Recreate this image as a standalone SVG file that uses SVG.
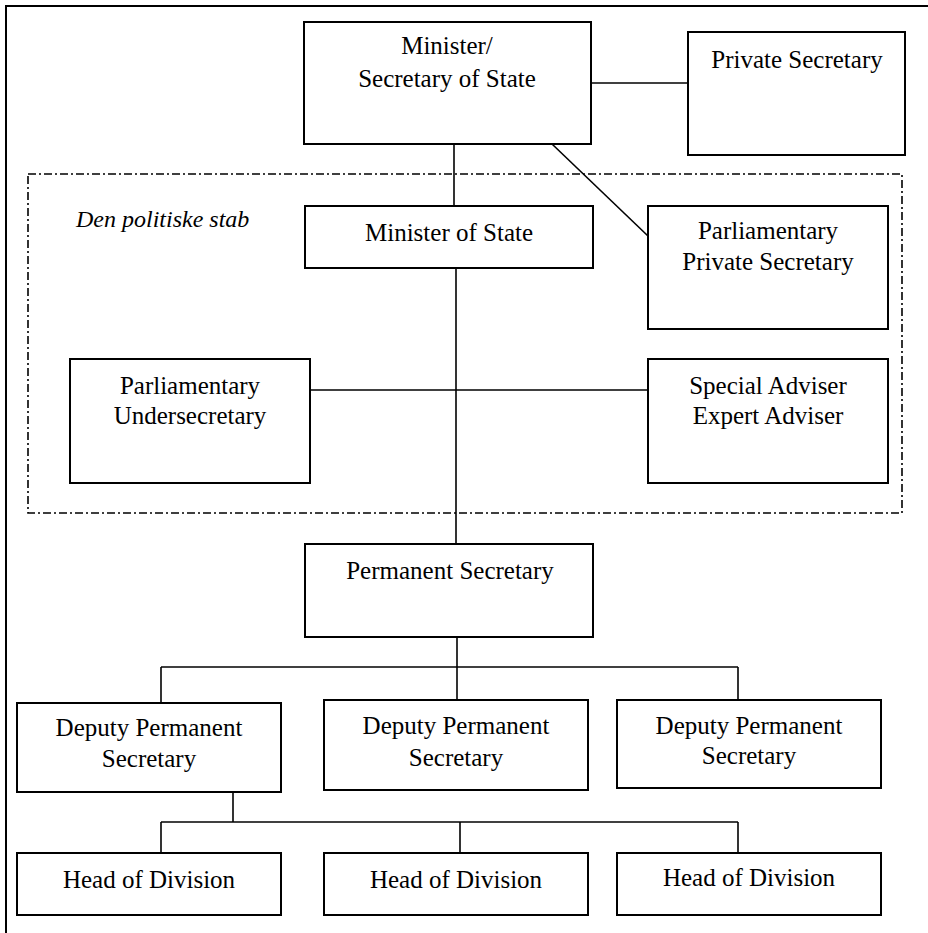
<svg xmlns="http://www.w3.org/2000/svg" width="928" height="933" viewBox="0 0 928 933">
<style>
.box{fill:#fff;stroke:#000;stroke-width:2}
.ln{fill:none;stroke:#000;stroke-width:1.6}
.t{font-family:"Liberation Serif","Times New Roman",serif;font-size:25px;fill:#000;text-anchor:middle}
.it{font-family:"Liberation Serif","Times New Roman",serif;font-size:24px;font-style:italic;fill:#000}
.dash{fill:none;stroke:#000;stroke-width:1.6;stroke-dasharray:8 3 2 3}
</style>
<rect width="928" height="933" fill="#fff"/>
<g id="frame">
<path d="M6 933 V6 H928" fill="none" stroke="#000" stroke-width="2"/>
</g>
<g id="political-staff">
<rect class="dash" x="28" y="174" width="874" height="339"/>
<text class="it" x="76" y="227">Den politiske stab</text>
</g>
<g id="connectors">
<line class="ln" x1="591" y1="83" x2="688" y2="83"/>
<line class="ln" x1="454" y1="144" x2="454" y2="206"/>
<line class="ln" x1="552" y1="144" x2="648" y2="236"/>
<line class="ln" x1="456" y1="268" x2="456" y2="544"/>
<line class="ln" x1="310" y1="390" x2="648" y2="390"/>
<line class="ln" x1="457" y1="637" x2="457" y2="667"/>
<line class="ln" x1="161" y1="667" x2="738" y2="667"/>
<line class="ln" x1="161" y1="667" x2="161" y2="703"/>
<line class="ln" x1="457" y1="667" x2="457" y2="700"/>
<line class="ln" x1="738" y1="667" x2="738" y2="700"/>
<line class="ln" x1="233" y1="792" x2="233" y2="822"/>
<line class="ln" x1="161" y1="822" x2="738" y2="822"/>
<line class="ln" x1="161" y1="822" x2="161" y2="853"/>
<line class="ln" x1="460" y1="822" x2="460" y2="853"/>
<line class="ln" x1="738" y1="822" x2="738" y2="853"/>
</g>
<g id="minister">
<rect class="box" x="304" y="22" width="287" height="122"/>
<text class="t" x="447" y="54">Minister/</text>
<text class="t" x="447" y="87">Secretary of State</text>
</g>
<g id="private-secretary">
<rect class="box" x="688" y="32" width="217" height="123"/>
<text class="t" x="797" y="68">Private Secretary</text>
</g>
<g id="minister-of-state">
<rect class="box" x="305" y="206" width="288" height="62"/>
<text class="t" x="449" y="241">Minister of State</text>
</g>
<g id="parliamentary-private-secretary">
<rect class="box" x="648" y="206" width="240" height="123"/>
<text class="t" x="768" y="239">Parliamentary</text>
<text class="t" x="768" y="270">Private Secretary</text>
</g>
<g id="parliamentary-undersecretary">
<rect class="box" x="70" y="359" width="240" height="124"/>
<text class="t" x="190" y="394">Parliamentary</text>
<text class="t" x="190" y="424">Undersecretary</text>
</g>
<g id="special-adviser">
<rect class="box" x="648" y="359" width="240" height="124"/>
<text class="t" x="768" y="394">Special Adviser</text>
<text class="t" x="768" y="424">Expert Adviser</text>
</g>
<g id="permanent-secretary">
<rect class="box" x="305" y="544" width="288" height="93"/>
<text class="t" x="450" y="579">Permanent Secretary</text>
</g>
<g id="deputy-1">
<rect class="box" x="17" y="703" width="264" height="89"/>
<text class="t" x="149" y="736">Deputy Permanent</text>
<text class="t" x="149" y="767">Secretary</text>
</g>
<g id="deputy-2">
<rect class="box" x="324" y="700" width="264" height="90"/>
<text class="t" x="456" y="734">Deputy Permanent</text>
<text class="t" x="456" y="766">Secretary</text>
</g>
<g id="deputy-3">
<rect class="box" x="617" y="700" width="264" height="88"/>
<text class="t" x="749" y="734">Deputy Permanent</text>
<text class="t" x="749" y="764">Secretary</text>
</g>
<g id="head-1">
<rect class="box" x="17" y="853" width="264" height="62"/>
<text class="t" x="149" y="888">Head of Division</text>
</g>
<g id="head-2">
<rect class="box" x="324" y="853" width="264" height="62"/>
<text class="t" x="456" y="888">Head of Division</text>
</g>
<g id="head-3">
<rect class="box" x="617" y="853" width="264" height="62"/>
<text class="t" x="749" y="886">Head of Division</text>
</g>
</svg>
